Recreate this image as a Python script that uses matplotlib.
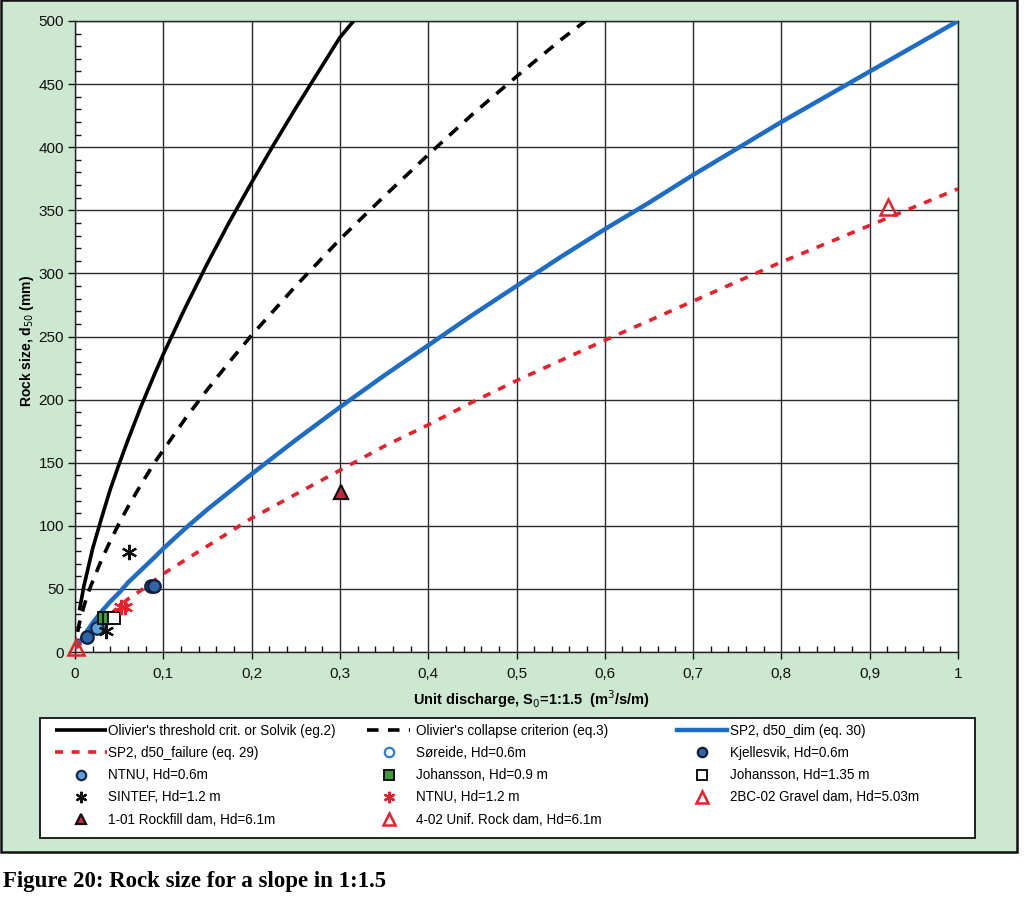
import matplotlib
matplotlib.use("Agg")
import matplotlib.pyplot as plt
from matplotlib.patches import Rectangle
from matplotlib.ticker import MultipleLocator, FuncFormatter

plt.rcParams['font.family'] = ['Liberation Sans', 'DejaVu Sans']

# ---- curves ----
threshold_q = [0.005, 0.01, 0.015, 0.02, 0.03, 0.04, 0.05, 0.06, 0.075, 0.09, 0.1, 0.125, 0.15,
               0.175, 0.2, 0.225, 0.25, 0.275, 0.3, 0.3155]
threshold_d = [33, 52, 67, 82, 106, 129, 149, 168, 195, 220, 236, 273, 308,
               341, 372, 402, 431, 459, 487, 500]

collapse_q = [0.003, 0.005, 0.01, 0.015, 0.02, 0.03, 0.04, 0.05, 0.06, 0.075, 0.09, 0.1, 0.125,
              0.15, 0.175, 0.2, 0.25, 0.3, 0.35, 0.4, 0.45, 0.5, 0.55, 0.578]
collapse_d = [16, 23, 36, 47, 56, 73, 88, 102, 115, 133, 150, 160, 185,
              208, 230, 251, 290, 327, 361, 394, 426, 456, 485, 500]

dim_q = [0.003, 0.01, 0.015, 0.02, 0.03, 0.04, 0.05, 0.06, 0.075, 0.09, 0.1, 0.125, 0.15, 0.175,
         0.2, 0.25, 0.3, 0.35, 0.4, 0.45, 0.5, 0.55, 0.6, 0.65, 0.7, 0.75, 0.8, 0.85, 0.9, 0.95, 1.0]
dim_d = [5, 13, 18, 23, 32, 40, 47, 55, 65, 75, 82, 98, 113, 127,
         141, 168, 194, 219, 243, 267, 290, 313, 335, 356, 378, 399, 420, 440, 460, 480, 500]

fail_q = [0.0, 0.005, 0.01, 0.015, 0.02, 0.03, 0.05, 0.06, 0.075, 0.1, 0.125, 0.15, 0.175, 0.2,
          0.25, 0.3, 0.35, 0.4, 0.45, 0.5, 0.6, 0.7, 0.8, 0.9, 1.0]
fail_d = [3, 6, 10, 14, 18, 24, 36, 42, 49, 62, 73, 84, 95, 106,
          125, 144, 163, 180, 198, 215, 247, 278, 309, 338, 367]

# ---- measured points ----
soreide_q = [0.027]
soreide_d = [20]
kjellesvik_q = [0.014, 0.086, 0.090]
kjellesvik_d = [12, 52, 52]
ntnu06_q = [0.025]
ntnu06_d = [19]
joh09_q = [0.033, 0.038]
joh09_d = [27, 27]
joh135_q = [0.044]
joh135_d = [27]
sintef_q = [0.061, 0.035]
sintef_d = [79, 17]
ntnu12_q = [0.052, 0.057]
ntnu12_d = [36, 36]
rock101_q = [0.301]
rock101_d = [127]
unif402_q = [0.001]
unif402_d = [4]
gravel_q = [0.921]
gravel_d = [353]

x_ticks = [0, 0.1, 0.2, 0.3, 0.4, 0.5, 0.6, 0.7, 0.8, 0.9, 1.0]
y_ticks = [0, 50, 100, 150, 200, 250, 300, 350, 400, 450, 500]

W, H = 1024, 908
fig = plt.figure(figsize=(W / 100, H / 100), dpi=100)
fig.patch.set_facecolor('white')

# green panel with frame
fig.patches.append(Rectangle((0.001, 1 - 852 / H), 1016 / W, 852 / H, transform=fig.transFigure,
                             facecolor='#cde8d1', edgecolor='#111111', linewidth=1.8, zorder=-10))

ax = fig.add_axes([75 / W, 1 - 652 / H, (958 - 75) / W, (652 - 21) / H])
ax.set_zorder(2)
ax.set_facecolor('white')

red = '#e8202c'
blue = '#1e6cc4'

h_thr, = ax.plot(threshold_q, threshold_d, color='black', lw=2.6, solid_capstyle='butt', zorder=4)
h_col, = ax.plot(collapse_q, collapse_d, color='black', lw=2.6, dashes=(3.2, 2.6), zorder=4)
h_dim, = ax.plot(dim_q, dim_d, color=blue, lw=3.2, zorder=4)
h_fail, = ax.plot(fail_q, fail_d, color=red, lw=2.6, dashes=(2.2, 2.4), zorder=4)

ms = 9
h_sor, = ax.plot(soreide_q, soreide_d, 'o', ms=ms, mfc='none', mec='#2a7fd4', mew=1.6, zorder=6)
h_kje, = ax.plot(kjellesvik_q, kjellesvik_d, 'o', ms=ms, mfc='#2f64a8', mec='#0c1c3c', mew=1.6, zorder=6)
h_n06, = ax.plot(ntnu06_q, ntnu06_d, 'o', ms=ms, mfc='#5aa2de', mec='#16284a', mew=1.6, zorder=6)
h_j09, = ax.plot(joh09_q, joh09_d, 's', ms=ms, mfc='#3f9b3f', mec='#111111', mew=1.4, zorder=6)
h_j135, = ax.plot(joh135_q, joh135_d, 's', ms=ms, mfc='white', mec='#111111', mew=1.4, zorder=6)
h_sin, = ax.plot(sintef_q, sintef_d, marker=(6, 2, 0), ls='none', ms=11, mec='#111111', mew=1.6, zorder=6)
h_n12, = ax.plot(ntnu12_q, ntnu12_d, marker=(6, 2, 0), ls='none', ms=11, mec=red, mew=1.6, zorder=6)
h_101, = ax.plot(rock101_q, rock101_d, '^', ms=10, mfc='#c8283c', mec='#111111', mew=1.6, zorder=6)
h_402, = ax.plot(unif402_q, unif402_d, '^', ms=11, mfc='none', mec=red, mew=1.8, zorder=6, clip_on=False)
h_2bc, = ax.plot(gravel_q, gravel_d, '^', ms=11, mfc='none', mec=red, mew=1.8, zorder=6)

ax.set_xlim(0, 1)
ax.set_ylim(0, 500)
ax.set_xticks(x_ticks)
ax.set_yticks(y_ticks)
ax.xaxis.set_minor_locator(MultipleLocator(0.02))
ax.yaxis.set_minor_locator(MultipleLocator(10))
ax.xaxis.set_major_formatter(FuncFormatter(lambda v, p: ('%g' % round(v, 3)).replace('.', ',')))
ax.grid(True, which='major', color='#2a2a2a', lw=1.0)
ax.set_axisbelow(True)
ax.tick_params(which='major', direction='out', length=5, width=1, labelsize=11, pad=3, colors='#111111')
ax.tick_params(axis='x', which='major', pad=6)
ax.tick_params(which='minor', direction='in', length=4, width=1, colors='#111111')
for s in ax.spines.values():
    s.set_color('#222222')
    s.set_linewidth(1.0)

ax.set_xlabel('Unit discharge, S$_0$=1:1.5  (m$^3$/s/m)', fontsize=10.5, fontweight='bold')
ax.xaxis.set_label_coords((531 - 75) / (958 - 75), (652 - 688) / (652 - 21))
ax.set_ylabel('Rock size, d$_{50}$ (mm)', fontsize=10, fontweight='bold')
ax.yaxis.set_label_coords((36 - 75) / (958 - 75), (652 - 341) / (652 - 21))

# legend box
fig.patches.append(Rectangle((40 / W, 1 - 838 / H), 935 / W, 120 / H, transform=fig.transFigure,
                             facecolor='white', edgecolor='#111111', linewidth=1.3, zorder=1))

fs = 9.75
lkw = dict(loc='upper left', frameon=False, borderpad=0, borderaxespad=0, fontsize=fs,
           labelspacing=0.6, markerscale=0.75)
col1 = [h_thr, h_fail, h_n06, h_sin, h_101]
lab1 = ["Olivier's threshold crit. or Solvik (eg.2)", "SP2, d50_failure (eq. 29)", "NTNU, Hd=0.6m",
        "SINTEF, Hd=1.2 m", "1-01 Rockfill dam, Hd=6.1m"]
col2 = [h_col, h_sor, h_j09, h_n12, h_402]
lab2 = ["Olivier's collapse criterion (eq.3)", "Søreide, Hd=0.6m", "Johansson, Hd=0.9 m",
        "NTNU, Hd=1.2 m", "4-02 Unif. Rock dam, Hd=6.1m"]
col3 = [h_dim, h_kje, h_j135, h_2bc]
lab3 = ["SP2, d50_dim (eq. 30)", "Kjellesvik, Hd=0.6m", "Johansson, Hd=1.35 m", "2BC-02 Gravel dam, Hd=5.03m"]

top = 1 - 724 / H
l1 = fig.legend(col1, lab1, bbox_to_anchor=(55 / W, top), handlelength=3.85, handletextpad=0.1, **lkw)
l2 = fig.legend(col2, lab2, bbox_to_anchor=(367 / W, top), handlelength=3.2, handletextpad=0.4, **lkw)
l3 = fig.legend(col3, lab3, bbox_to_anchor=(677 / W, top), handlelength=3.7, handletextpad=0.2, **lkw)
for lg in (l1, l2, l3):
    lg.set_zorder(3)

fig.text(3 / W, 1 - 881 / H, 'Figure 20: Rock size for a slope in 1:1.5', family='Liberation Serif',
         fontsize=16.5, fontweight='bold', va='center', ha='left')

fig.savefig('out.png', dpi=100)
